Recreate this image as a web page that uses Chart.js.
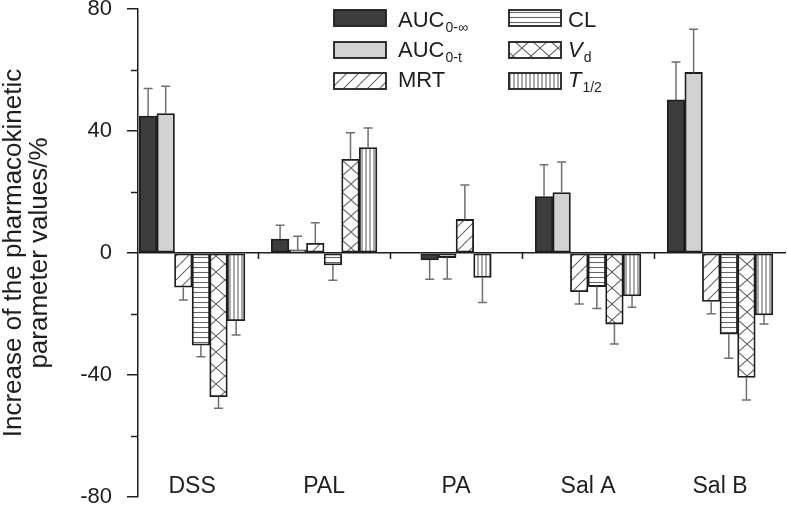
<!DOCTYPE html>
<html>
<head>
<meta charset="utf-8">
<script src="https://cdn.jsdelivr.net/npm/chart.js@4"></script>
<style>
  html, body { margin: 0; padding: 0; background: #fff; }
</style>
</head>
<body>
<canvas id="pkChart" width="787" height="507"></canvas>
<script>
const categories = ['DSS', 'PAL', 'PA', 'Sal A', 'Sal B'];
const yTicks = [-80, -40, 0, 40, 80];
const yMinorTicks = [-60, -20, 20, 60];

// % change of each parameter, with SD (null = not reported)
const aucInf    = [44.9, 4.6, -2.3, 18.5, 50.2];
const aucInfErr = [9.0, 4.5, 6.3, 10.4, 12.4];
const aucT      = [45.7, 1.0, -1.5, 19.8, 59.2];
const aucTErr   = [9.0, 4.5, 7.0, 10.0, 14.2];
const mrt       = [-11.2, 3.2, 11.0, -12.7, -15.9];
const mrtErr    = [4.2, 6.7, 11.3, 4.0, 4.0];
const cl        = [-30.2, -3.9, null, -11.0, -26.6];
const clErr     = [3.8, 5.0, null, 7.2, 7.9];
const vd        = [-47.1, 30.7, null, -23.3, -40.8];
const vdErr     = [3.8, 8.7, null, 6.5, 7.4];
const t12       = [-22.2, 34.6, -8.0, -14.1, -20.3];
const t12Err    = [4.7, 6.4, 8.2, 3.7, 3.0];

const seriesMain   = ['AUC', 'AUC', 'MRT', 'CL', 'V', 'T'];
const seriesSub    = ['0-\u221E', '0-t', '', '', 'd', '1/2'];
const seriesItalic = [false, false, false, false, true, true];

const X_MIN = -0.41, X_MAX = 4.5;
const INK = '#1e1e1e';
const NONE = 'rgba(0,0,0,0)';

function makePattern(kind) {
  const c = document.createElement('canvas');
  const sizes = { diag: [12, 12], horiz: [8, 5], vert: [4, 8], cross: [18, 16] };
  const [w, h] = sizes[kind];
  c.width = w; c.height = h;
  const g = c.getContext('2d');
  g.fillStyle = '#fff';
  g.fillRect(0, 0, w, h);
  g.strokeStyle = '#666';
  g.lineWidth = 1.1;
  g.beginPath();
  if (kind === 'diag') {
    g.moveTo(0, h); g.lineTo(w, 0);
    g.moveTo(-w / 2, h / 2); g.lineTo(w / 2, -h / 2);
    g.moveTo(w / 2, h * 1.5); g.lineTo(w * 1.5, h / 2);
  } else if (kind === 'horiz') {
    g.moveTo(0, 2.5); g.lineTo(w, 2.5);
  } else if (kind === 'vert') {
    g.moveTo(2, 0); g.lineTo(2, h);
  } else {
    g.moveTo(0, 0); g.lineTo(w, h);
    g.moveTo(0, h); g.lineTo(w, 0);
  }
  g.stroke();
  return g.createPattern(c, 'repeat');
}

const fills = ['#3d3d3d', '#d2d2d2', makePattern('diag'), makePattern('horiz'), makePattern('cross'), makePattern('vert')];
const values = [aucInf, aucT, mrt, cl, vd, t12];
const errors = [aucInfErr, aucTErr, mrtErr, clErr, vdErr, t12Err];

const datasets = values.map((vals, s) => ({
  label: seriesMain[s] + seriesSub[s],
  data: vals.map((v, i) => ({ x: i, y: v })),
  errors: errors[s],
  backgroundColor: fills[s],
  borderColor: INK,
  borderWidth: 1.8,
  borderSkipped: false,
  barThickness: 17.6,
  skipNull: true
}));

const errorBars = {
  id: 'errorBars',
  afterDatasetsDraw(chart) {
    const ctx = chart.ctx;
    const y = chart.scales.y;
    ctx.save();
    ctx.strokeStyle = '#707070';
    ctx.lineWidth = 1.5;
    chart.data.datasets.forEach((ds, di) => {
      const meta = chart.getDatasetMeta(di);
      meta.data.forEach((bar, i) => {
        const v = ds.data[i].y, e = ds.errors[i];
        if (v == null || e == null) return;
        const y0 = y.getPixelForValue(v);
        const y1 = y.getPixelForValue(v >= 0 ? v + e : v - e);
        ctx.beginPath();
        ctx.moveTo(bar.x, y0); ctx.lineTo(bar.x, y1);
        ctx.moveTo(bar.x - 4.5, y1); ctx.lineTo(bar.x + 4.5, y1);
        ctx.stroke();
      });
    });
    ctx.restore();
  }
};

// short minor ticks on the y axis and category separators under the zero line
const axisMarks = {
  id: 'axisMarks',
  afterDraw(chart) {
    const { ctx, chartArea, scales: { x, y } } = chart;
    ctx.save();
    ctx.strokeStyle = INK;
    ctx.lineWidth = 1.5;
    ctx.beginPath();
    yMinorTicks.forEach((v) => {
      const py = Math.round(y.getPixelForValue(v)) + 0.5;
      ctx.moveTo(chartArea.left - 7, py); ctx.lineTo(chartArea.left, py);
    });
    const y0 = y.getPixelForValue(0);
    categories.slice(1).forEach((_, i) => {
      const px = Math.round(x.getPixelForValue(i + 0.5)) + 0.5;
      ctx.moveTo(px, y0); ctx.lineTo(px, y0 + 6);
    });
    ctx.stroke();
    ctx.restore();
  }
};

const legendBoxes = {
  id: 'legendBoxes',
  afterDraw(chart) {
    const ctx = chart.ctx;
    const boxX = [334, 509], textX = [398, 568];
    const boxTop = [10, 42, 73], baseY = [27, 57, 87];
    ctx.save();
    chart.data.datasets.forEach((ds, i) => {
      const col = Math.floor(i / 3), row = i % 3;
      ctx.fillStyle = ds.backgroundColor;
      ctx.fillRect(boxX[col], boxTop[row], 52, 16);
      ctx.strokeStyle = INK;
      ctx.lineWidth = 1.8;
      ctx.strokeRect(boxX[col], boxTop[row], 52, 16);
      ctx.fillStyle = INK;
      ctx.textBaseline = 'alphabetic';
      ctx.textAlign = 'left';
      const style = seriesItalic[i] ? 'italic ' : '';
      ctx.font = style + '22px "Liberation Sans", Arial, sans-serif';
      ctx.fillText(seriesMain[i], textX[col], baseY[row]);
      const w = ctx.measureText(seriesMain[i]).width;
      if (seriesSub[i]) {
        ctx.font = '14px "Liberation Sans", Arial, sans-serif';
        ctx.fillText(seriesSub[i], textX[col] + w + 1, baseY[row] + 5);
      }
    });
    ctx.restore();
  }
};

function noPad(scale) {
  scale.paddingTop = 0; scale.paddingBottom = 0;
  scale.paddingLeft = 0; scale.paddingRight = 0;
}

new Chart(document.getElementById('pkChart').getContext('2d'), {
  type: 'bar',
  data: { datasets: datasets },
  options: {
    responsive: false,
    animation: false,
    devicePixelRatio: 1,
    layout: { padding: { top: 9, right: 1, left: 0, bottom: 0 } },
    plugins: { legend: { display: false }, tooltip: { enabled: false } },
    scales: {
      x: {
        type: 'linear',
        position: 'bottom',
        offset: false,
        min: X_MIN, max: X_MAX,
        afterBuildTicks: (s) => { s.ticks = categories.map((_, i) => ({ value: i })); },
        afterFit: (s) => { s.height = 10; noPad(s); },
        ticks: {
          autoSkip: false, maxRotation: 0, minRotation: 0, mirror: true, padding: -3, color: INK,
          font: { family: '"Liberation Sans Narrow", "Liberation Sans", Arial, sans-serif', size: 23 },
          callback: (v) => categories[v]
        },
        grid: { display: false, drawTicks: false, offset: false },
        border: { display: false }
      },
      y: {
        position: 'left',
        min: -80, max: 80,
        ticks: {
          stepSize: 40, padding: 15, color: INK,
          font: { family: '"Liberation Sans", Arial, sans-serif', size: 22 }
        },
        afterFit: (s) => { s.width = 138; noPad(s); },
        grid: {
          drawOnChartArea: true, tickLength: 11, tickWidth: 1.5, lineWidth: 1.5,
          color: (c) => (c.tick && c.tick.value === 0 ? INK : NONE),
          tickColor: INK
        },
        border: { display: true, color: INK, width: 1.5 },
        title: {
          display: true,
          text: ['Increase of the pharmacokinetic', 'parameter values/%'],
          color: INK,
          padding: { top: 1, bottom: 0 },
          font: { family: '"Liberation Sans", Arial, sans-serif', size: 26, lineHeight: 1.0 }
        }
      }
    }
  },
  plugins: [errorBars, axisMarks, legendBoxes]
});
</script>
</body>
</html>
